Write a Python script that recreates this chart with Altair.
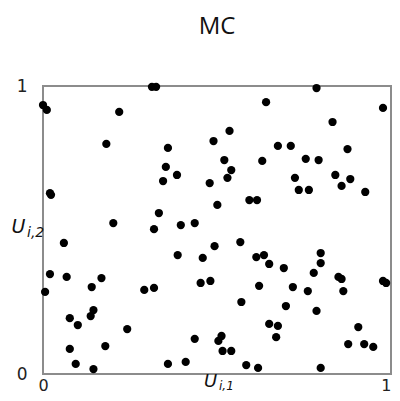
import altair as alt
import pandas as pd

u1 = [0.000, 0.011, 0.313, 0.325, 0.219, 0.182, 0.359, 0.490, 0.353, 0.385,
      0.345, 0.479, 0.501, 0.020, 0.023, 0.333, 0.202, 0.319, 0.396, 0.436,
      0.786, 0.641, 0.977, 0.832, 0.536, 0.675, 0.712, 0.875, 0.521, 0.630,
      0.755, 0.792, 0.541, 0.530, 0.724, 0.840, 0.883, 0.858, 0.735, 0.764,
      0.926, 0.593, 0.615, 0.060, 0.493, 0.387, 0.459, 0.020, 0.068, 0.168,
      0.140, 0.453, 0.481, 0.006, 0.291, 0.319, 0.145, 0.137, 0.077, 0.100,
      0.242, 0.436, 0.504, 0.077, 0.179, 0.094, 0.145, 0.359, 0.410, 0.567,
      0.613, 0.635, 0.650, 0.692, 0.798, 0.798, 0.778, 0.849, 0.858, 0.977,
      0.986, 0.621, 0.718, 0.761, 0.863, 0.570, 0.698, 0.786, 0.650, 0.675,
      0.670, 0.906, 0.513, 0.516, 0.541, 0.877, 0.923, 0.949, 0.584, 0.618,
      0.798]
u2 = [0.934, 0.917, 0.997, 0.997, 0.910, 0.799, 0.785, 0.809, 0.719, 0.691,
      0.670, 0.663, 0.587, 0.628, 0.622, 0.559, 0.524, 0.503, 0.517, 0.524,
      0.993, 0.944, 0.924, 0.875, 0.844, 0.792, 0.792, 0.781, 0.743, 0.740,
      0.747, 0.743, 0.708, 0.681, 0.681, 0.691, 0.677, 0.653, 0.639, 0.639,
      0.632, 0.604, 0.604, 0.455, 0.444, 0.413, 0.403, 0.347, 0.337, 0.333,
      0.302, 0.316, 0.323, 0.285, 0.292, 0.299, 0.222, 0.201, 0.194, 0.170,
      0.156, 0.122, 0.115, 0.087, 0.097, 0.035, 0.017, 0.035, 0.042, 0.458,
      0.406, 0.413, 0.382, 0.368, 0.420, 0.385, 0.351, 0.337, 0.330, 0.323,
      0.316, 0.306, 0.302, 0.288, 0.288, 0.250, 0.236, 0.219, 0.174, 0.167,
      0.128, 0.163, 0.132, 0.080, 0.080, 0.104, 0.104, 0.094, 0.031, 0.021,
      0.021]

tick_values = [0, 1]
title_text = "MC"

df = pd.DataFrame({"u1": u1, "u2": u2})

W, H = 348, 288

points = alt.Chart(df).mark_circle(size=68, color="black", opacity=1).encode(
    x=alt.X("u1:Q", scale=alt.Scale(domain=[0, 1], nice=False, zero=False),
            axis=alt.Axis(values=tick_values, title=None, domain=False, ticks=False,
                          grid=False, labelFont="DejaVu Sans", labelFontSize=16,
                          labelColor="#222", labelPadding=3, format="d",
                          labelFlush=False,
                          labelAlign={"condition": {"test": "datum.value == 1", "value": "right"},
                                      "value": "center"})),
    y=alt.Y("u2:Q", scale=alt.Scale(domain=[0, 1], nice=False, zero=False),
            axis=alt.Axis(values=tick_values, title=None, domain=False, ticks=False,
                          grid=False, labelFont="DejaVu Sans", labelFontSize=17,
                          labelColor="#222", labelPadding=16, format="d",
                          labelFlush=False)),
)

one = pd.DataFrame({"a": [0]})

def txt(s, x, y, size, align="center", italic=True):
    return alt.Chart(one).mark_text(
        font="DejaVu Sans", fontSize=size, fontStyle="italic" if italic else "normal",
        align=align, baseline="middle", color="#111"
    ).encode(x=alt.value(x), y=alt.value(y), text=alt.value(s))

titles = [
    txt("U", 167.5, 295.5, 18),
    txt("i,1", 176, 300, 12, align="left"),
    txt("U", -24.5, 140.5, 19),
    txt("i,2", -16, 146.5, 14, align="left"),
]

chart = alt.layer(points, *titles).properties(
    width=W, height=H,
    title=alt.TitleParams(title_text, font="Open Sans", fontSize=24, fontWeight="normal",
                          color="#111", anchor="middle", offset=38),
    autosize=alt.AutoSizeParams(type="none"),
    padding={"left": 35, "top": 78, "right": 1, "bottom": 19},
).configure_view(stroke="#8c8c8c", strokeWidth=2)

chart.save("out.html", embed_options={"renderer": "svg", "actions": False})
